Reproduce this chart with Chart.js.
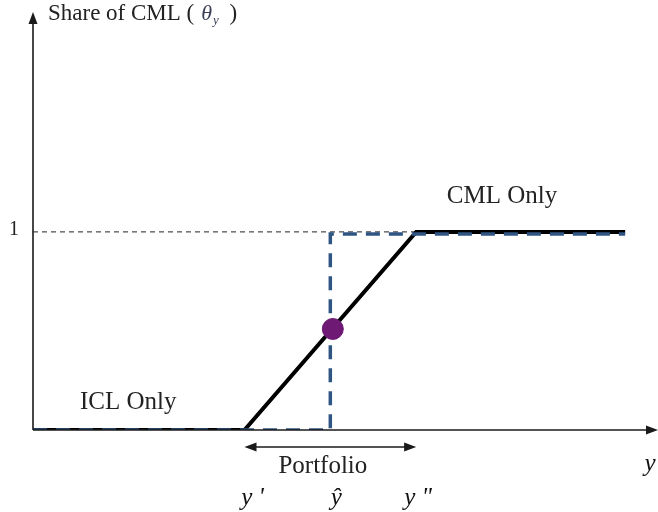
<!DOCTYPE html>
<html>
<head>
<meta charset="utf-8">
<script src="https://cdn.jsdelivr.net/npm/chart.js@4/dist/chart.umd.min.js"></script>
<style>
html,body{margin:0;padding:0;background:#fff;}
#wrap{width:658px;height:512px;position:relative;}
</style>
</head>
<body>
<div id="wrap"><canvas id="c" width="658" height="512"></canvas></div>
<script>
// Key x positions (income y) and shares
const yPrime = 34;
const yHat = 47.8;
const yDoublePrime = 61.6;
const yEnd = 95.2;
const xMax = 100;
const yMax = 2.1;

// Series: share of CML (solid), step at y-hat (dashed), level-1 guide, point at y-hat
const shareX = [0, yPrime, yDoublePrime, yEnd];
const shareY = [0, 0, 1, 1];
const stepX = [0, yHat, yHat, yEnd];
const stepY = [0, 0, 0.99, 0.99];
const guideX = [0, yDoublePrime];
const guideY = [1, 1];
const dotX = [48.2];
const dotY = [0.51];

// Text labels
const axisTitle = ['Share of CML (', '\u03B8', 'y', ' )'];
const xAxisLabel = 'y';
const yTickLabel = '1';
const regionLabels = ['ICL Only', 'CML Only', 'Portfolio'];
const regionLabelX = [15.3, 75.4, 46.6];
const xMarkLabels = ["y '", '\u0177', 'y "'];
const xMarkPos = [yPrime, yHat, yDoublePrime];

const pts = (xs, ys) => xs.map((x, i) => ({x: x, y: ys[i]}));

const overlay = {
  id: 'overlay',
  afterDraw(chart) {
    const ctx = chart.ctx;
    const xs = chart.scales.x, ys = chart.scales.y;
    const x0 = xs.getPixelForValue(0), y0 = ys.getPixelForValue(0);
    const top = 12, right = 658;
    ctx.save();
    ctx.strokeStyle = '#1a1a1a';
    ctx.fillStyle = '#1a1a1a';
    ctx.lineWidth = 1.6;
    ctx.setLineDash([]);
    // y axis
    ctx.beginPath(); ctx.moveTo(x0, y0); ctx.lineTo(x0, top + 8); ctx.stroke();
    ctx.beginPath(); ctx.moveTo(x0, top); ctx.lineTo(x0 - 4.5, top + 12); ctx.lineTo(x0 + 4.5, top + 12); ctx.closePath(); ctx.fill();
    // x axis
    ctx.beginPath(); ctx.moveTo(x0, y0); ctx.lineTo(right - 8, y0); ctx.stroke();
    ctx.beginPath(); ctx.moveTo(right, y0); ctx.lineTo(right - 12, y0 - 4.5); ctx.lineTo(right - 12, y0 + 4.5); ctx.closePath(); ctx.fill();
    // double arrow for portfolio range
    const ax1 = xs.getPixelForValue(yPrime), ax2 = xs.getPixelForValue(yDoublePrime);
    const ay = y0 + 17;
    ctx.lineWidth = 1.6;
    ctx.beginPath(); ctx.moveTo(ax1 + 8, ay); ctx.lineTo(ax2 - 8, ay); ctx.stroke();
    ctx.beginPath(); ctx.moveTo(ax1, ay); ctx.lineTo(ax1 + 12, ay - 4.5); ctx.lineTo(ax1 + 12, ay + 4.5); ctx.closePath(); ctx.fill();
    ctx.beginPath(); ctx.moveTo(ax2, ay); ctx.lineTo(ax2 - 12, ay - 4.5); ctx.lineTo(ax2 - 12, ay + 4.5); ctx.closePath(); ctx.fill();

    // texts
    ctx.fillStyle = '#222';
    ctx.textBaseline = 'alphabetic';
    ctx.textAlign = 'left';
    // title
    let tx = 48, ty = 20;
    ctx.font = '23px "Liberation Serif"';
    ctx.fillText(axisTitle[0], tx, ty); tx += ctx.measureText(axisTitle[0]).width + 7;
    ctx.fillStyle = '#3a3f55';
    ctx.font = 'italic 22px "Liberation Serif"';
    ctx.fillText(axisTitle[1], tx, ty); tx += ctx.measureText(axisTitle[1]).width + 1;
    ctx.font = 'italic 13px "Liberation Serif"';
    ctx.fillText(axisTitle[2], tx, ty + 4); tx += ctx.measureText(axisTitle[2]).width + 5;
    ctx.fillStyle = '#222';
    ctx.font = '23px "Liberation Serif"';
    ctx.fillText(axisTitle[3], tx, ty);

    // "1" tick label
    ctx.textAlign = 'center';
    ctx.font = '20px "Liberation Serif"';
    ctx.fillText(yTickLabel, 14, ys.getPixelForValue(1) + 3);

    // region labels
    ctx.font = '25px "Liberation Serif"';
    ctx.fillText(regionLabels[0], xs.getPixelForValue(regionLabelX[0]), y0 - 21);
    ctx.fillText(regionLabels[1], xs.getPixelForValue(regionLabelX[1]), ys.getPixelForValue(1) - 29);
    ctx.fillText(regionLabels[2], xs.getPixelForValue(regionLabelX[2]), y0 + 43);

    // x mark labels
    ctx.font = 'italic 25px "Liberation Serif"';
    ctx.fillStyle = '#111';
    const offs = [8, 6, 2];
    xMarkPos.forEach((p, i) => {
      ctx.fillText(xMarkLabels[i], xs.getPixelForValue(p) + offs[i], y0 + 75);
    });
    // x axis label
    ctx.fillText(xAxisLabel, 650, y0 + 41);
    ctx.restore();
  }
};

new Chart(document.getElementById('c'), {
  type: 'scatter',
  data: {
    datasets: [
      { data: pts(dotX, dotY), showLine: false, pointRadius: 10.5, pointBackgroundColor: '#6e1a74', pointBorderColor: '#6e1a74', order: 0 },
      { data: pts(stepX, stepY), showLine: true, borderColor: '#2f5683', borderWidth: 3.5, borderDash: [14, 9], pointRadius: 0, fill: false, order: 1 },
      { data: pts(shareX, shareY), showLine: true, borderColor: '#000', borderWidth: 4, pointRadius: 0, fill: false, order: 2 },
      { data: pts(guideX, guideY), showLine: true, borderColor: '#222', borderWidth: 1, borderDash: [5, 4], pointRadius: 0, fill: false, order: 3 }
    ]
  },
  options: {
    responsive: false,
    animation: false,
    events: [],
    layout: { autoPadding: false, padding: { left: 33, top: 14, right: 3, bottom: 82 } },
    plugins: { legend: { display: false }, tooltip: { enabled: false } },
    scales: {
      x: { type: 'linear', min: 0, max: xMax, display: false },
      y: { type: 'linear', min: 0, max: yMax, display: false }
    }
  },
  plugins: [overlay]
});
</script>
</body>
</html>
